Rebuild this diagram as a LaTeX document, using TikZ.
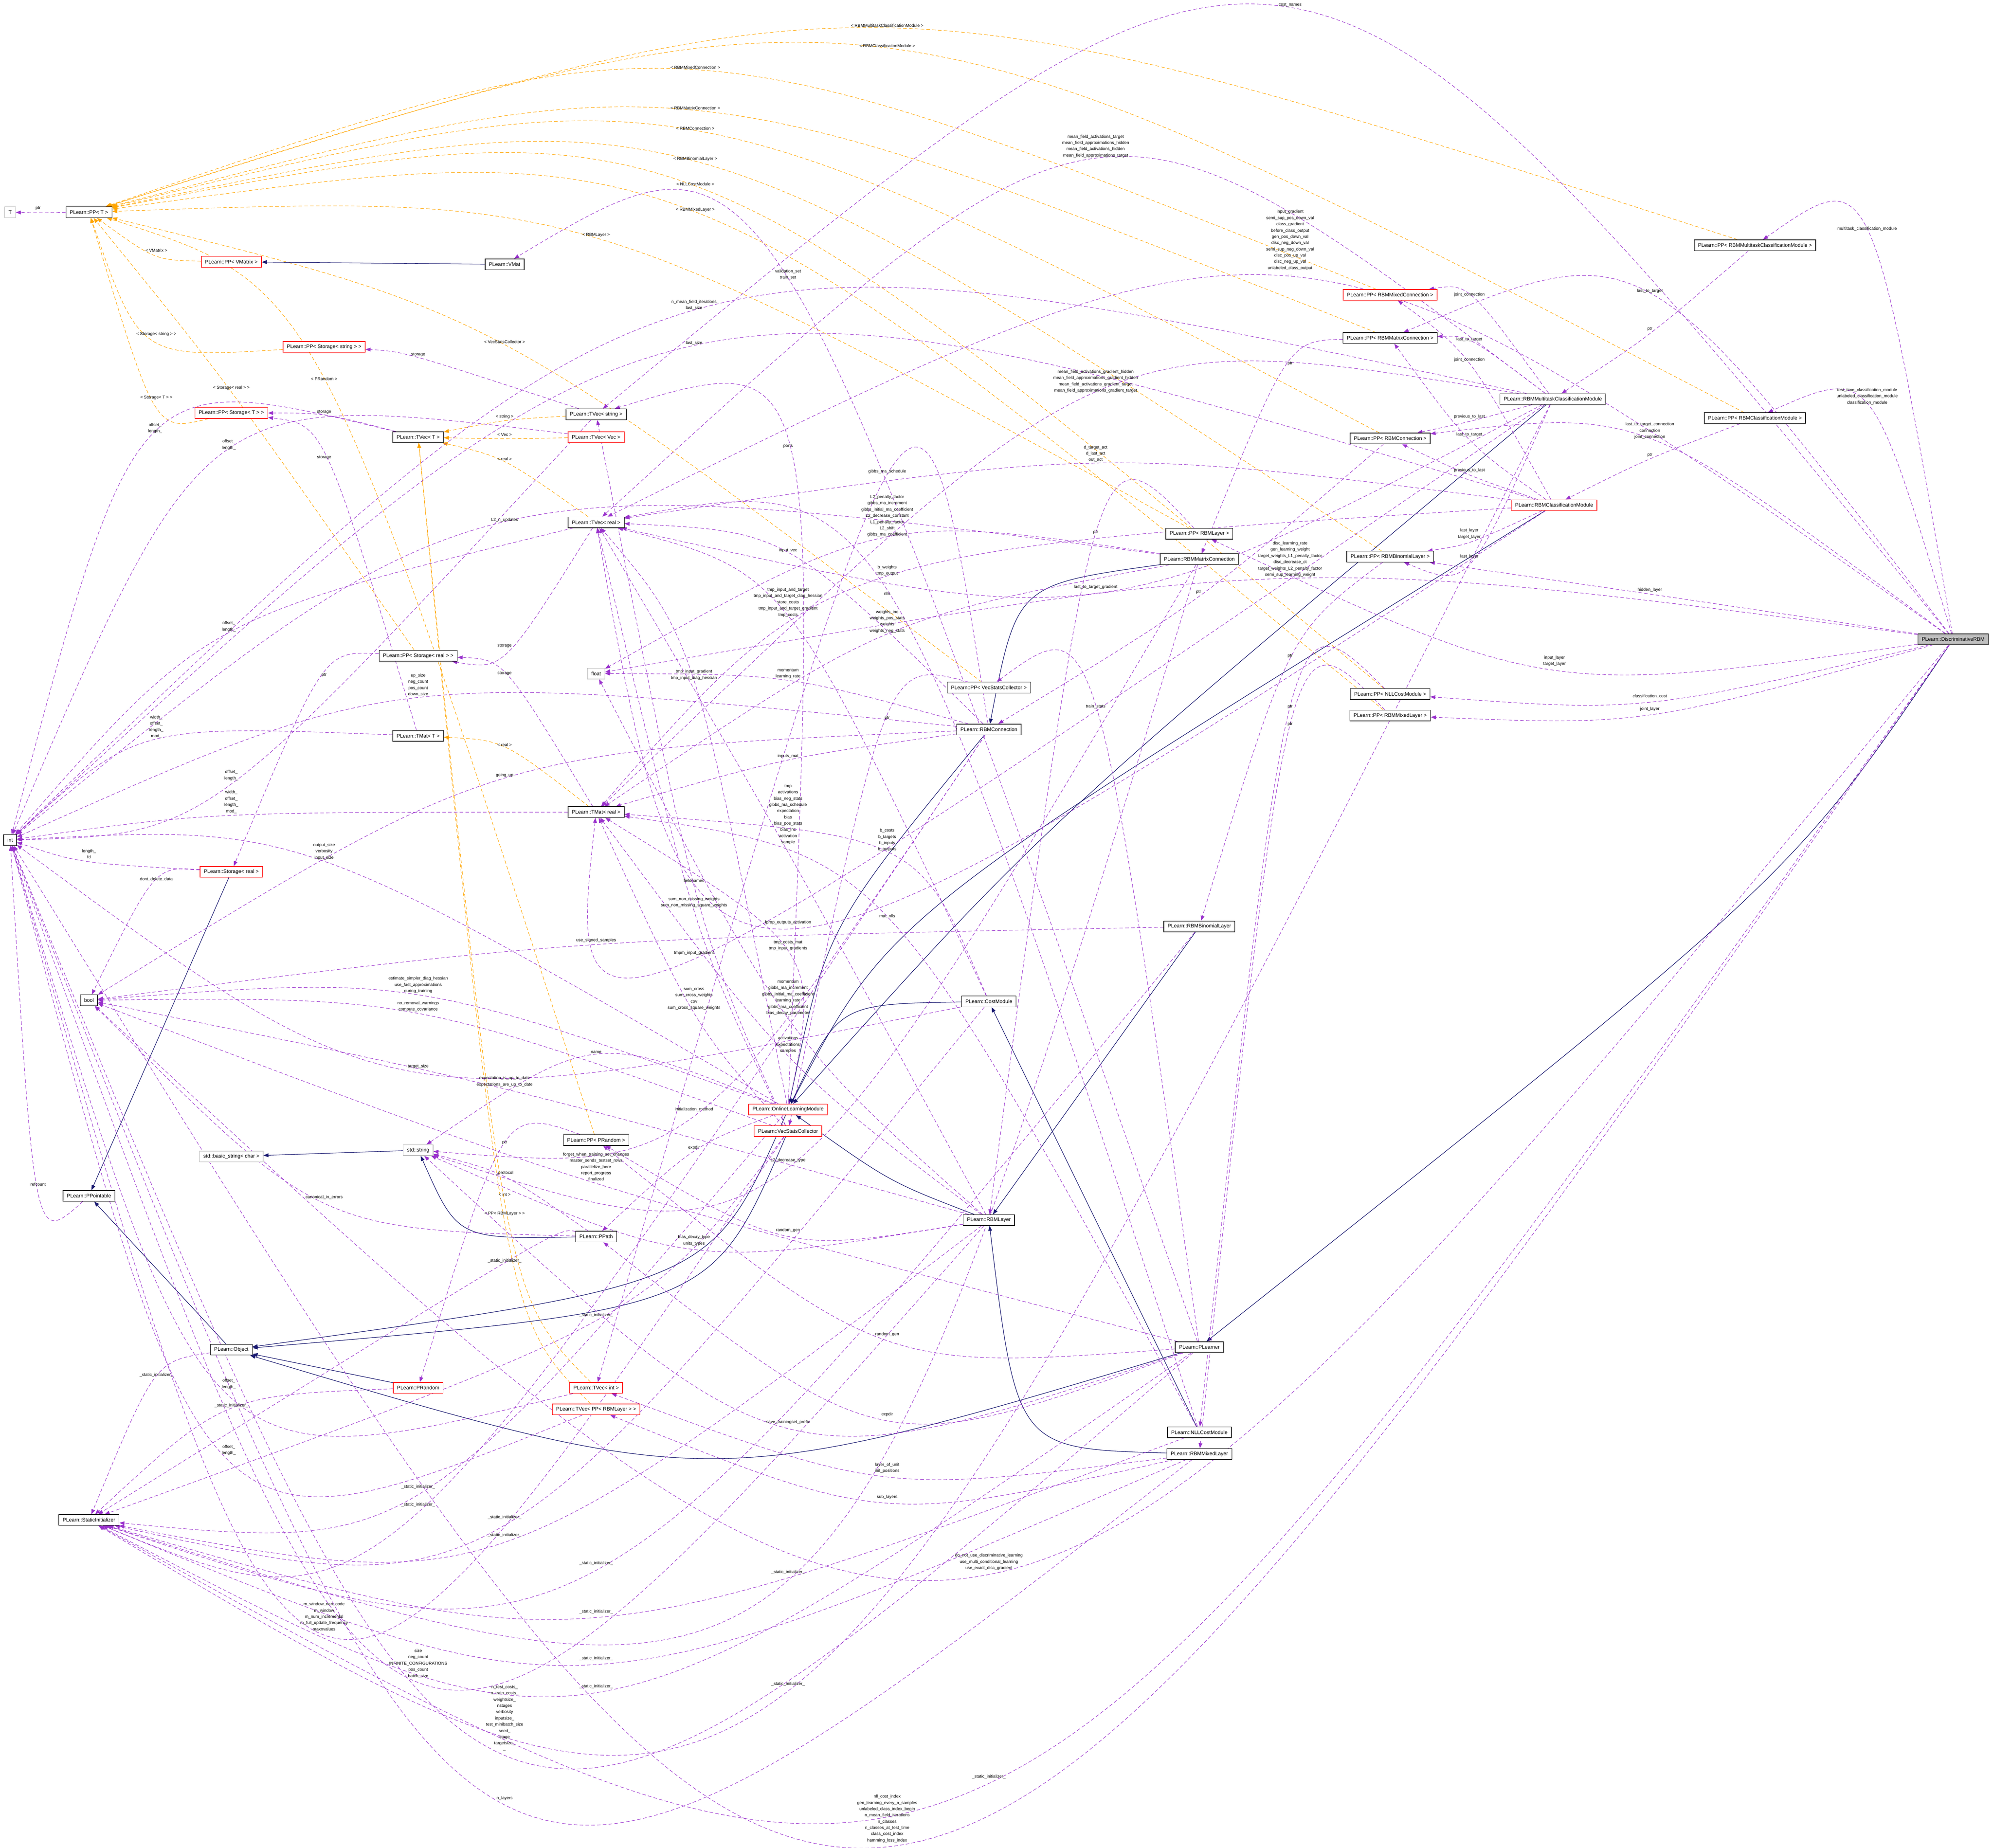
\documentclass[tikz,border=0pt]{standalone}
\usepackage{fontspec}
\setmainfont{Liberation Sans}
\usetikzlibrary{arrows.meta,calc}
\definecolor{usec}{HTML}{9A32CD}
\definecolor{tplc}{HTML}{FFA500}
\definecolor{inhc}{HTML}{191970}
\pgfdeclarelayer{bg}
\pgfsetlayers{bg,main}
\tikzset{
 cls/.style={draw=black, line width=1.2pt, fill=white, font=\fontsize{11.5}{13}\selectfont, minimum height=0.85cm, inner xsep=0.3cm, inner ysep=0.1cm},
 redcls/.style={cls, draw=red},
 graycls/.style={cls, draw=gray!55},
 rootcls/.style={cls, fill=gray!50},
 lbl/.style={font=\fontsize{9.5}{14}\selectfont, align=center, inner sep=1pt},
 use/.style={draw=usec, line width=1pt, dash pattern=on 8pt off 5pt, -{Triangle[length=0.4cm,width=0.3cm]}},
 tpl/.style={use, draw=tplc},
 inh/.style={draw=inhc, line width=1.2pt, -{Triangle[length=0.4cm,width=0.3cm]}}
}
\newcommand\E[5]{\node[lbl] (L) at (#4) {#5};\coordinate (M) at ($(L.south)+(0,1.5)$);\begin{pgfonlayer}{bg}\draw[#1] (#2) .. controls ($1.3333*(M)-0.16667*(#2)-0.16667*(#3)$) and ($1.3333*(M)-0.16667*(#2)-0.16667*(#3)$) .. (#3);\end{pgfonlayer}}
\newcommand\F[4]{\begin{pgfonlayer}{bg}\draw[#1] (#2) .. controls (#4) and (#4) .. (#3);\end{pgfonlayer}}
\newcommand\G[3]{\begin{pgfonlayer}{bg}\draw[#1] (#2) -- (#3);\end{pgfonlayer}}
\begin{document}
\begin{tikzpicture}[x=0.1cm,y=-0.1cm]
\path[use as bounding box] (0,0) rectangle (1568,1454);
% nodes
\node[graycls] (T) at (8,167) {T};
\node[cls] (ppT) at (70,167) {PLearn::PP< T >};
\node[redcls] (ppVM) at (182,206) {PLearn::PP< VMatrix >};
\node[cls] (vmat) at (397,208) {PLearn::VMat};
\node[redcls] (ppSS) at (255,273) {PLearn::PP< Storage< string > >};
\node[redcls] (ppST) at (182,325) {PLearn::PP< Storage< T > >};
\node[cls] (tvecT) at (329,344) {PLearn::TVec< T >};
\node[cls] (tvecS) at (469,326) {PLearn::TVec< string >};
\node[redcls] (tvecV) at (469,344) {PLearn::TVec< Vec >};
\node[cls] (tvecR) at (469,411) {PLearn::TVec< real >};
\node[graycls] (float) at (469,530) {float};
\node[cls] (ppSR) at (329,516) {PLearn::PP< Storage< real > >};
\node[cls] (tmatT) at (329,579) {PLearn::TMat< T >};
\node[cls] (tmatR) at (469,639) {PLearn::TMat< real >};
\node[cls] (int) at (8,661) {int};
\node[redcls] (storR) at (182,686) {PLearn::Storage< real >};
\node[cls] (bool) at (70,787) {bool};
\node[graycls] (basic) at (182,910) {std::basic\_string< char >};
\node[graycls] (stdstr) at (329,905) {std::string};
\node[cls] (ppPR) at (469,897) {PLearn::PP< PRandom >};
\node[cls] (ppoint) at (70,941) {PLearn::PPointable};
\node[cls] (ppath) at (469,973) {PLearn::PPath};
\node[cls] (object) at (182,1062) {PLearn::Object};
\node[redcls] (prand) at (329,1092) {PLearn::PRandom};
\node[redcls] (tvecI) at (469,1092) {PLearn::TVec< int >};
\node[redcls] (tvecPP) at (469,1109) {PLearn::TVec< PP< RBMLayer > >};
\node[cls] (static) at (70,1196) {PLearn::StaticInitializer};
\node[redcls] (olm) at (620,873) {PLearn::OnlineLearningModule};
\node[redcls] (vsc) at (620,890) {PLearn::VecStatsCollector};
\node[cls] (cost) at (778,788) {PLearn::CostModule};
\node[cls] (rbmlayer) at (778,960) {PLearn::RBMLayer};
\node[cls] (ppVSC) at (778,541) {PLearn::PP< VecStatsCollector >};
\node[cls] (rbmconn) at (778,574) {PLearn::RBMConnection};
\node[cls] (ppLayer) at (943.6,420) {PLearn::PP< RBMLayer >};
\node[cls] (matconn) at (943.6,440) {PLearn::RBMMatrixConnection};
\node[cls] (binom) at (943.6,729) {PLearn::RBMBinomialLayer};
\node[cls] (plearner) at (943.6,1060) {PLearn::PLearner};
\node[cls] (nll) at (943.6,1127) {PLearn::NLLCostModule};
\node[cls] (mixed) at (943.6,1144) {PLearn::RBMMixedLayer};
\node[cls] (ppMulti) at (1380.7,193) {PLearn::PP< RBMMultitaskClassificationModule >};
\node[redcls] (ppMixConn) at (1093.7,232) {PLearn::PP< RBMMixedConnection >};
\node[cls] (ppMatConn) at (1093.7,266) {PLearn::PP< RBMMatrixConnection >};
\node[cls] (multitask) at (1221.7,314) {PLearn::RBMMultitaskClassificationModule};
\node[cls] (ppClass) at (1380.7,329) {PLearn::PP< RBMClassificationModule >};
\node[cls] (ppConn) at (1093.7,345) {PLearn::PP< RBMConnection >};
\node[redcls] (classmod) at (1222.7,397.5) {PLearn::RBMClassificationModule};
\node[cls] (ppBinom) at (1093.7,438) {PLearn::PP< RBMBinomialLayer >};
\node[rootcls] (drbm) at (1536.7,503) {PLearn::DiscriminativeRBM};
\node[cls] (ppNLL) at (1093.7,546) {PLearn::PP< NLLCostModule >};
\node[cls] (ppMixL) at (1093.7,563) {PLearn::PP< RBMMixedLayer >};
% template edges
\E{tpl}{ppMulti}{ppT}{698,20}{< RBMMultitaskClassificationModule >}
\E{tpl}{ppClass}{ppT}{698,36}{< RBMClassificationModule >}
\E{tpl}{ppMixConn}{ppT}{547,53}{< RBMMixedConnection >}
\E{tpl}{ppMatConn}{ppT}{547,85}{< RBMMatrixConnection >}
\E{tpl}{ppConn}{ppT}{547,101}{< RBMConnection >}
\E{tpl}{ppBinom}{ppT}{547,125}{< RBMBinomialLayer >}
\E{tpl}{ppNLL}{ppT}{547,145}{< NLLCostModule >}
\E{tpl}{ppMixL}{ppT}{547,165}{< RBMMixedLayer >}
\E{tpl}{ppLayer}{ppT}{469,185}{< RBMLayer >}
\E{tpl}{ppVM}{ppT}{123,197}{< VMatrix >}
\E{tpl}{ppSS}{ppT}{123,263}{< Storage< string > >}
\E{tpl}{ppVSC}{ppT}{397,269}{< VecStatsCollector >}
\E{tpl}{ppPR}{ppT}{255,298}{< PRandom >}
\E{tpl}{ppSR}{ppT}{182,305}{< Storage< real > >}
\E{tpl}{ppST}{ppT}{123,313}{< Storage< T > >}
\E{tpl}{tvecS}{tvecT}{397,328}{< string >}
\E{tpl}{tvecV}{tvecT}{397,342}{< Vec >}
\E{tpl}{tvecR}{tvecT}{397,361}{< real >}
\E{tpl}{tvecI}{tvecT}{397,940}{< int >}
\E{tpl}{tvecPP}{tvecT}{397,955}{< PP< RBMLayer > >}
\E{tpl}{tmatR}{tmatT}{397,586}{< real >}
% inheritance
\G{inh}{vmat}{ppVM}
\G{inh}{storR}{ppoint}
\G{inh}{object}{ppoint}
\G{inh}{prand}{object}
\F{inh}{olm}{object}{560,1010}
\F{inh}{vsc}{object}{560,1030}
\F{inh}{plearner}{object}{560,1175}
\G{inh}{stdstr}{basic}
\F{inh}{ppath}{stdstr}{360,975}
\F{inh}{rbmlayer}{olm}{700,930}
\F{inh}{rbmconn}{olm}{650,730}
\F{inh}{cost}{olm}{660,790}
\F{inh}{multitask}{olm}{820,650}
\F{inh}{classmod}{olm}{700,720}
\G{inh}{binom}{rbmlayer}
\F{inh}{mixed}{rbmlayer}{800,1140}
\G{inh}{nll}{cost}
\F{inh}{matconn}{rbmconn}{800,460}
\F{inh}{drbm}{plearner}{1410,690}
% usage edges
\E{use}{ppT}{T}{30,164}{ptr}
\E{use}{tvecS}{ppSS}{329,279}{storage}
\E{use}{tvecT}{ppST}{255,324}{storage}
\E{use}{tmatT}{ppST}{255,360}{storage}
\E{use}{tvecT}{int}{122,337}{offset\_\\length\_}
\E{use}{tvecV}{int}{180,350}{offset\_\\length\_}
\E{use}{tvecR}{int}{180,493}{offset\_\\length\_}
\E{use}{tvecR}{ppSR}{397,508}{storage}
\E{use}{tmatR}{ppSR}{397,530}{storage}
\E{use}{ppSR}{storR}{255,531}{ptr}
\E{use}{rbmconn}{int}{329,539}{up\_size\\neg\_count\\pos\_count\\down\_size}
\E{use}{tmatT}{int}{123,572}{width\_\\offset\_\\length\_\\mod\_}
\E{use}{tvecS}{int}{182,610}{offset\_\\length\_}
\E{use}{rbmconn}{bool}{397,610}{going\_up}
\E{use}{tmatR}{int}{182,631}{width\_\\offset\_\\length\_\\mod\_}
\E{use}{olm}{int}{255,670}{output\_size\\verbosity\\input\_size}
\E{use}{storR}{int}{70,672}{length\_\\fd}
\E{use}{storR}{bool}{123,692}{dont\_delete\_data}
\E{use}{matconn}{int}{397,409}{L2\_n\_updates}
\E{use}{drbm}{tvecS}{1015,4}{cost\_names}
\E{use}{multitask}{tvecR}{862,115}{mean\_field\_activations\_target\\mean\_field\_approximations\_hidden\\mean\_field\_activations\_hidden\\mean\_field\_approximations\_target}
\E{use}{drbm}{tvecR}{1015,191}{input\_gradient\\semi\_sup\_pos\_down\_val\\class\_gradient\\before\_class\_output\\gen\_pos\_down\_val\\disc\_neg\_down\_val\\semi\_sup\_neg\_down\_val\\disc\_pos\_up\_val\\disc\_neg\_up\_val\\unlabeled\_class\_output\\...}
\E{use}{plearner}{vmat}{620,216}{validation\_set\\train\_set}
\E{use}{multitask}{int}{546,240}{n\_mean\_field\_iterations\\last\_size}
\E{use}{classmod}{int}{546,270}{last\_size}
\E{use}{ppMatConn}{matconn}{1015,286}{ptr}
\E{use}{multitask}{tmatR}{862,300}{mean\_field\_activations\_gradient\_hidden\\mean\_field\_approximations\_gradient\_hidden\\mean\_field\_activations\_gradient\_target\\mean\_field\_approximations\_gradient\_target}
\E{use}{olm}{tvecS}{620,351}{ports}
\E{use}{classmod}{tvecR}{862,357}{d\_target\_act\\d\_last\_act\\out\_act}
\E{use}{rbmconn}{tvecI}{698,371}{gibbs\_ma\_schedule}
\E{use}{matconn}{float}{698,406}{L2\_penalty\_factor\\gibbs\_ma\_increment\\gibbs\_initial\_ma\_coefficient\\L2\_decrease\_constant\\L1\_penalty\_factor\\L2\_shift\\gibbs\_ma\_coefficient}
\E{use}{ppLayer}{rbmlayer}{862,419}{ptr}
\E{use}{rbmconn}{tvecR}{620,433}{input\_vec}
\E{use}{drbm}{float}{1015,440}{disc\_learning\_rate\\gen\_learning\_weight\\target\_weights\_L1\_penalty\_factor\\disc\_decrease\_ct\\target\_weights\_L2\_penalty\_factor\\semi\_sup\_learning\_weight}
\E{use}{classmod}{tmatR}{698,449}{b\_weights\\tmp\_output}
\E{use}{multitask}{tvecR}{862,462}{last\_to\_target\_gradient}
\E{use}{ppConn}{rbmconn}{943,466}{ptr}
\E{use}{nll}{tvecR}{698,467}{nlls}
\E{use}{cost}{tvecR}{620,474}{tmp\_input\_and\_target\\tmp\_input\_and\_target\_diag\_hessian\\store\_costs\\tmp\_input\_and\_target\_gradient\\tmp\_costs}
\E{use}{matconn}{tmatR}{698,489}{weights\_inc\\weights\_pos\_stats\\weights\\weights\_neg\_stats}
\E{use}{ppBinom}{binom}{1015,516}{ptr}
\E{use}{olm}{tvecR}{546,531}{tmp\_input\_gradient\\tmp\_input\_diag\_hessian}
\E{use}{rbmconn}{float}{620,530}{momentum\\learning\_rate}
\E{use}{ppNLL}{nll}{1015,556}{ptr}
\E{use}{plearner}{ppVSC}{862,556}{train\_stats}
\E{use}{ppVSC}{vsc}{698,565}{ptr}
\E{use}{ppMixL}{mixed}{1015,570}{ptr}
\E{use}{rbmconn}{tmatR}{620,595}{inputs\_mat}
\E{use}{rbmlayer}{tvecR}{620,643}{tmp\\activations\\bias\_neg\_stats\\gibbs\_ma\_schedule\\expectation\\bias\\bias\_pos\_stats\\bias\_inc\\activation\\sample\\...}
\E{use}{cost}{tmatR}{698,661}{b\_costs\\b\_targets\\b\_inputs\\b\_outputs}
\E{use}{vsc}{tvecS}{546,693}{fieldnames}
\E{use}{vsc}{tvecR}{546,710}{sum\_non\_missing\_weights\\sum\_non\_missing\_square\_weights}
\E{use}{nll}{tmatR}{698,721}{mat\_nlls}
\E{use}{classmod}{tvecR}{620,726}{fprop\_outputs\_activation}
\E{use}{olm}{tmatR}{620,744}{tmp\_costs\_mat\\tmp\_input\_gradients}
\E{use}{multitask}{tmatR}{546,750}{tmpm\_input\_gradient}
\E{use}{vsc}{tmatR}{546,786}{sum\_cross\\sum\_cross\_weights\\cov\\sum\_cross\_square\_weights}
\E{use}{rbmlayer}{float}{620,785}{momentum\\gibbs\_ma\_increment\\gibbs\_initial\_ma\_coefficient\\learning\_rate\\gibbs\_ma\_coefficient\\bias\_decay\_parameter}
\E{use}{rbmlayer}{tmatR}{620,822}{activations\\expectations\\samples}
\E{use}{rbmconn}{stdstr}{546,873}{initialization\_method}
\E{use}{olm}{ppath}{546,903}{expdir}
\E{use}{matconn}{stdstr}{620,913}{L2\_decrease\_type}
\E{use}{rbmlayer}{ppPR}{620,968}{random\_gen}
\E{use}{rbmlayer}{stdstr}{546,976}{bias\_decay\_type\\units\_types}
\E{use}{plearner}{ppPR}{698,1050}{random\_gen}
\E{use}{plearner}{ppath}{698,1113}{expdir}
\E{use}{plearner}{stdstr}{620,1119}{save\_trainingset\_prefix}
\E{use}{mixed}{tvecI}{698,1155}{layer\_of\_unit\\init\_positions}
\E{use}{mixed}{tvecPP}{698,1178}{sub\_layers}
\E{use}{drbm}{bool}{778,1229}{do\_not\_use\_discriminative\_learning\\use\_multi\_conditional\_learning\\use\_exact\_disc\_gradient}
\E{use}{drbm}{int}{698,1431}{nll\_cost\_index\\gen\_learning\_every\_n\_samples\\unlabeled\_class\_index\_begin\\n\_mean\_field\_iterations\\n\_classes\\n\_classes\_at\_test\_time\\class\_cost\_index\\hamming\_loss\_index}
\E{use}{binom}{bool}{469,740}{use\_signed\_samples}
\E{use}{olm}{bool}{329,775}{estimate\_simpler\_diag\_hessian\\use\_fast\_approximations\\during\_training}
\E{use}{vsc}{bool}{329,792}{no\_removal\_warnings\\compute\_covariance}
\E{use}{olm}{stdstr}{469,828}{name}
\E{use}{cost}{int}{329,839}{target\_size}
\E{use}{rbmlayer}{bool}{397,851}{expectation\_is\_up\_to\_date\\expectations\_are\_up\_to\_date}
\E{use}{ppPR}{prand}{397,899}{ptr}
\E{use}{plearner}{bool}{469,918}{forget\_when\_training\_set\_changes\\master\_sends\_testset\_rows\\parallelize\_here\\report\_progress\\finalized}
\E{use}{ppath}{stdstr}{397,923}{\_protocol}
\E{use}{ppath}{bool}{255,942}{canonical\_in\_errors}
\E{use}{ppoint}{int}{30,932}{refcount}
\E{use}{tvecI}{int}{180,1089}{offset\_\\length\_}
\E{use}{tvecPP}{int}{180,1141}{offset\_\\length\_}
\E{use}{vsc}{int}{255,1272}{m\_window\_nan\_code\\m\_window\\m\_num\_incremental\\m\_full\_update\_frequency\\maxnvalues}
\E{use}{rbmlayer}{int}{329,1309}{size\\neg\_count\\INFINITE\_CONFIGURATIONS\\pos\_count\\batch\_size}
\E{use}{plearner}{int}{397,1352}{n\_test\_costs\_\\n\_train\_costs\_\\weightsize\_\\nstages\\verbosity\\inputsize\_\\test\_minibatch\_size\\seed\_\\stage\\targetsize\_\\...}
\E{use}{mixed}{int}{397,1415}{n\_layers}
% static initializer
\E{use}{object}{static}{123,1082}{\_static\_initializer\_}
\E{use}{prand}{static}{182,1106}{\_static\_initializer\_}
\E{use}{ppath}{static}{397,992}{\_static\_initializer\_}
\E{use}{vsc}{static}{469,1035}{\_static\_initializer\_}
\E{use}{olm}{static}{329,1170}{\_static\_initializer\_}
\E{use}{rbmconn}{static}{329,1184}{\_static\_initializer\_}
\E{use}{cost}{static}{397,1194}{\_static\_initializer\_}
\E{use}{rbmlayer}{static}{397,1208}{\_static\_initializer\_}
\E{use}{binom}{static}{469,1230}{\_static\_initializer\_}
\E{use}{matconn}{static}{620,1237}{\_static\_initializer\_}
\E{use}{nll}{static}{469,1268}{\_static\_initializer\_}
\E{use}{mixed}{static}{469,1305}{\_static\_initializer\_}
\E{use}{plearner}{static}{469,1327}{\_static\_initializer\_}
\E{use}{multitask}{static}{620,1325}{\_static\_initializer\_}
\E{use}{drbm}{static}{778,1398}{\_static\_initializer\_}
% right side
\E{use}{drbm}{ppMulti}{1469,180}{multitask\_classification\_module}
\E{use}{multitask}{ppMixConn}{1156,232}{joint\_connection}
\E{use}{drbm}{ppMatConn}{1298,229}{last\_to\_target}
\E{use}{ppMulti}{multitask}{1298,259}{ptr}
\E{use}{multitask}{ppMatConn}{1156,267}{last\_to\_target}
\E{use}{classmod}{ppMixConn}{1156,283}{joint\_connection}
\E{use}{drbm}{ppClass}{1469,312}{test\_time\_classification\_module\\unlabeled\_classification\_module\\classification\_module}
\E{use}{multitask}{ppConn}{1156,328}{previous\_to\_last}
\E{use}{classmod}{ppMatConn}{1156,342}{last\_to\_target}
\E{use}{drbm}{ppConn}{1298,339}{last\_to\_target\_connection\\connection\\joint\_connection}
\E{use}{ppClass}{classmod}{1298,358}{ptr}
\E{use}{classmod}{ppConn}{1156,370}{previous\_to\_last}
\E{use}{classmod}{ppBinom}{1156,420}{last\_layer\\target\_layer}
\E{use}{multitask}{ppBinom}{1156,438}{last\_layer}
\E{use}{drbm}{ppBinom}{1298,464}{hidden\_layer}
\E{use}{drbm}{ppLayer}{1223,520}{input\_layer\\target\_layer}
\E{use}{drbm}{ppNLL}{1298,548}{classification\_cost}
\E{use}{drbm}{ppMixL}{1298,558}{joint\_layer}
\end{tikzpicture}
\end{document}
